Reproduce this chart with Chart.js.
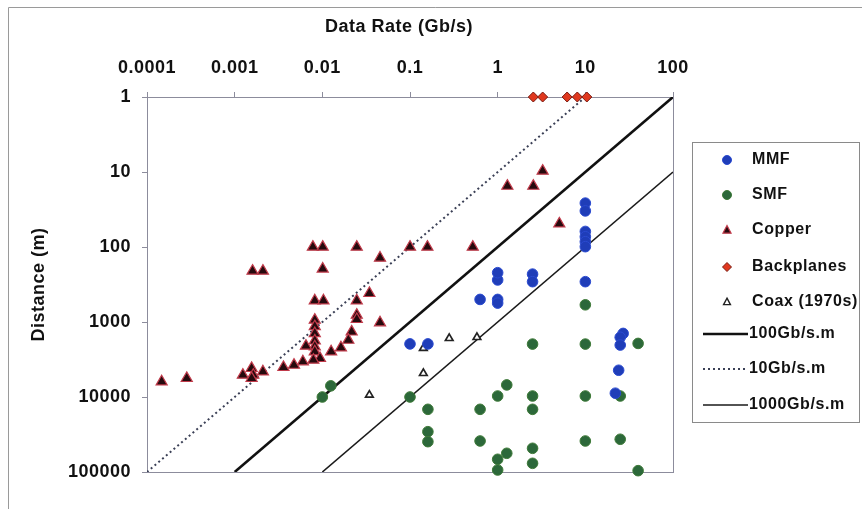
<!DOCTYPE html>
<html><head><meta charset="utf-8">
<script src="https://cdn.jsdelivr.net/npm/chart.js@4.4.0/dist/chart.umd.min.js"></script>
<style>html,body{margin:0;padding:0;background:#fff;}#wrap{position:relative;width:862px;height:509px;}</style>
</head><body><div id="wrap"><canvas id="c" width="862" height="509"></canvas></div>
<script>
const xTicks = [0.0001, 0.001, 0.01, 0.1, 1, 10, 100];
const yTicks = [1, 10, 100, 1000, 10000, 100000];

const mmfRate = [0.1, 0.16, 0.63, 1.0, 1.0, 1.0, 1.0, 2.5, 2.5, 10, 10, 10, 10, 10, 10, 10, 27, 25, 25, 24, 22];
const mmfDist = [1960, 1960, 500, 500, 275, 220, 560, 230, 290, 290, 26, 33, 62, 73, 85, 99, 1420, 1600, 2030, 4400, 8900];

const smfRate = [0.0125, 0.01, 0.1, 0.16, 0.16, 0.16, 0.63, 0.63, 1.0, 1.27, 1.0, 1.27, 1.0, 2.5, 2.5, 2.5, 2.5, 2.5, 10, 10, 10, 10, 40, 25, 25, 40];
const smfDist = [7100, 10000, 10000, 14600, 29000, 39400, 14600, 38600, 9700, 6900, 67700, 56300, 94000, 9700, 14600, 48300, 76600, 1970, 590, 1970, 9700, 38600, 1930, 9700, 36600, 96000];

const copperRate = [0.000147, 0.000284, 0.0016, 0.0021, 0.0078, 0.0101, 0.0101, 0.0247, 0.0455, 0.1, 0.158, 0.52, 3.26, 1.29, 2.55, 5.05,
  0.0082, 0.0103, 0.0247, 0.0344, 0.0247, 0.0247, 0.0455, 0.0082, 0.0082, 0.0082, 0.0082, 0.0082, 0.0082, 0.0065, 0.0094, 0.0079,
  0.0216, 0.0198, 0.0163, 0.0126, 0.006, 0.00475, 0.0036, 0.0021, 0.00156, 0.00163, 0.00124, 0.00156];
const copperDist = [6250, 5630, 209, 209, 100, 100, 196, 100, 140, 100, 100, 100, 9.7, 15.4, 15.4, 49,
  520, 520, 520, 414, 807, 921, 1020, 940, 1150, 1420, 1780, 2130, 2490, 2090, 3050, 3210,
  1350, 1740, 2200, 2490, 3380, 3750, 4020, 4600, 4140, 5090, 5090, 5630];

const backRate = [2.55, 3.26, 6.2, 8.1, 10.4];
const backDist = [1, 1, 1, 1, 1];

const coaxRate = [0.142, 0.142, 0.0344, 0.28, 0.58];
const coaxDist = [2240, 4830, 9400, 1650, 1600];

const line100Rate = [0.001, 100];
const line100Dist = [100000, 1];
const line10Rate = [0.0001, 10];
const line10Dist = [100000, 1];
const line1000Rate = [0.01, 100];
const line1000Dist = [100000, 10];

const xTitle = 'Data Rate (Gb/s)';
const yTitle = 'Distance (m)';

const pts = (xs, ys) => xs.map((x, i) => ({x: x, y: ys[i]}));
const FONT = "'Liberation Sans', Arial, sans-serif";

const datasets = [
  {label: 'MMF', data: pts(mmfRate, mmfDist), pointStyle: 'circle', pointRadius: 5.3, borderWidth: 1,
   backgroundColor: '#1f3db8', borderColor: '#2a4ad0', showLine: false, order: 1, clip: 10},
  {label: 'SMF', data: pts(smfRate, smfDist), pointStyle: 'circle', pointRadius: 5.3, borderWidth: 1,
   backgroundColor: '#2c683a', borderColor: '#3e7a38', showLine: false, order: 1, clip: 10},
  {label: 'Copper', data: pts(copperRate, copperDist), pointStyle: 'triangle', pointRadius: 6.4, borderWidth: 1.2,
   backgroundColor: '#260a0e', borderColor: '#c03a4a', showLine: false, order: 1, clip: 10},
  {label: 'Backplanes', data: pts(backRate, backDist), pointStyle: 'rectRot', pointRadius: 5, borderWidth: 1,
   backgroundColor: '#e0381e', borderColor: '#7a1a10', showLine: false, order: 1, clip: 10},
  {label: 'Coax (1970s)', data: pts(coaxRate, coaxDist), pointStyle: 'triangle', pointRadius: 4.4, borderWidth: 1.7,
   backgroundColor: '#ffffff', borderColor: '#222222', showLine: false, order: 1, clip: 10},
  {type: 'line', label: '100Gb/s.m', data: pts(line100Rate, line100Dist), borderColor: '#111111', borderWidth: 2.6,
   pointRadius: 0, fill: false, order: 5},
  {type: 'line', label: '10Gb/s.m', data: pts(line10Rate, line10Dist), borderColor: '#3a3f55', borderWidth: 2,
   borderDash: [2, 3], pointRadius: 0, fill: false, order: 5},
  {type: 'line', label: '1000Gb/s.m', data: pts(line1000Rate, line1000Dist), borderColor: '#1a1a1a', borderWidth: 1.6,
   pointRadius: 0, fill: false, order: 5}
];

const framePlugin = {
  id: 'frame',
  beforeDraw(chart) {
    const ctx = chart.ctx;
    ctx.letterSpacing = '0.5px';
    ctx.save();
    ctx.fillStyle = '#fff';
    ctx.fillRect(0, 0, chart.width, chart.height);
    ctx.strokeStyle = '#9a9a9a';
    ctx.lineWidth = 1;
    ctx.beginPath();
    ctx.moveTo(8.5, 509); ctx.lineTo(8.5, 7.5); ctx.lineTo(862, 7.5);
    ctx.stroke();
    ctx.restore();
  },
  beforeDatasetsDraw(chart) {
    const a = chart.chartArea, ctx = chart.ctx;
    ctx.save();
    ctx.strokeStyle = '#8c8c9c';
    ctx.lineWidth = 1;
    ctx.strokeRect(a.left + 0.5, a.top + 0.5, a.right - a.left, a.bottom - a.top);
    ctx.restore();
  },
  afterDraw(chart) {
    const ctx = chart.ctx;
    ctx.save();
    // top axis title
    ctx.font = 'bold 18px ' + FONT;
    ctx.letterSpacing = '0.5px';
    ctx.fillStyle = '#111';
    ctx.textAlign = 'center';
    ctx.textBaseline = 'middle';
    ctx.fillText(xTitle, 399, 27);
    // legend
    ctx.textAlign = 'left';
    ctx.letterSpacing = '0.6px';
    ctx.strokeStyle = '#8a8a8a';
    ctx.lineWidth = 1;
    ctx.strokeRect(692.5, 142.5, 167, 280);
    const rows = [160, 195, 230, 267, 302, 334, 369, 405];
    ctx.font = 'bold 16px ' + FONT;
    chart.data.datasets.forEach((ds, i) => {
      const y = rows[i];
      if (ds.type === 'line') {
        ctx.save();
        ctx.strokeStyle = ds.borderColor;
        ctx.lineWidth = ds.borderWidth;
        ctx.setLineDash(ds.borderDash || []);
        ctx.beginPath();
        ctx.moveTo(703, y); ctx.lineTo(748, y);
        ctx.stroke();
        ctx.restore();
        ctx.fillText(ds.label, 749, y);
      } else {
        ctx.save();
        ctx.fillStyle = ds.backgroundColor;
        ctx.strokeStyle = ds.borderColor;
        ctx.lineWidth = Math.min(ds.borderWidth, 1.4);
        const cx = 727, r = 4.5;
        ctx.beginPath();
        if (ds.pointStyle === 'circle') {
          ctx.arc(cx, y, r, 0, Math.PI * 2);
        } else if (ds.pointStyle === 'triangle') {
          const rr = ds.label === 'Copper' ? 4.5 : 3.8;
          ctx.moveTo(cx, y - rr); ctx.lineTo(cx + rr * 0.9, y + rr * 0.7); ctx.lineTo(cx - rr * 0.9, y + rr * 0.7); ctx.closePath();
        } else {
          ctx.moveTo(cx, y - r); ctx.lineTo(cx + r, y); ctx.lineTo(cx, y + r); ctx.lineTo(cx - r, y); ctx.closePath();
        }
        ctx.fill(); ctx.stroke();
        ctx.restore();
        ctx.fillText(ds.label, 752, y);
      }
    });
    ctx.restore();
  }
};

new Chart(document.getElementById('c'), {
  type: 'scatter',
  data: {datasets: datasets},
  options: {
    responsive: false,
    animation: false,
    layout: {padding: {left: 25, right: 189, top: 13, bottom: 37}},
    plugins: {legend: {display: false}, tooltip: {enabled: false}},
    scales: {
      x: {
        type: 'logarithmic', position: 'top', min: 0.0001, max: 100,
        afterBuildTicks: (s) => { s.ticks = xTicks.map(v => ({value: v, major: true})); },
        afterFit: (s) => { s.height = 84; },
        ticks: {callback: (v) => String(v), font: {family: FONT, size: 18, weight: 'bold'}, color: '#111', padding: 13, maxRotation: 0, autoSkip: false},
        grid: {display: true, drawOnChartArea: false, tickLength: 5, color: '#8c8c9c'},
        border: {display: true, color: '#8c8c9c'},
        title: {display: false, text: xTitle}
      },
      y: {
        type: 'logarithmic', reverse: true, min: 1, max: 100000,
        afterBuildTicks: (s) => { s.ticks = yTicks.map(v => ({value: v, major: true})); },
        afterFit: (s) => { s.width = 122; },
        ticks: {callback: (v) => String(v), font: {family: FONT, size: 18, weight: 'bold'}, color: '#111', padding: 11, autoSkip: false},
        grid: {display: true, drawOnChartArea: false, tickLength: 5, color: '#8c8c9c'},
        border: {display: true, color: '#8c8c9c'},
        title: {display: true, text: yTitle, font: {family: FONT, size: 18, weight: 'bold'}, color: '#111', padding: {top: 3, bottom: 0}}
      }
    }
  },
  plugins: [framePlugin]
});
</script>
</body></html>
